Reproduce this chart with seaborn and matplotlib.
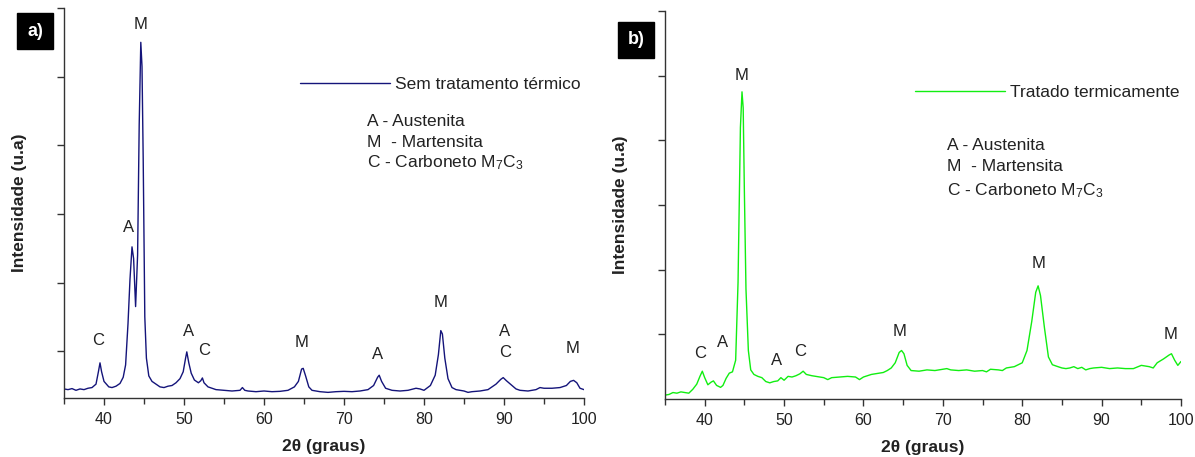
import matplotlib
matplotlib.use('Agg')
import matplotlib.pyplot as plt
import seaborn as sns
import numpy as np

#%% data
theta_a = [35, 35.5, 36, 36.5, 37, 37.5, 38, 38.5, 39, 39.3, 39.5, 39.7, 40, 40.3, 40.6,
           41, 41.5, 42, 42.4, 42.7, 43.0, 43.25, 43.5, 43.7, 43.95, 44.2, 44.4, 44.6,
           44.75, 44.9, 45.1, 45.3, 45.6, 46, 46.5, 47, 47.5, 48, 48.5, 49, 49.5, 49.9,
           50.2, 50.35, 50.6, 50.9, 51.3, 51.8, 52.1, 52.3, 52.5, 53, 53.5, 54, 55, 56,
           57, 57.3, 57.6, 58, 59, 60, 61, 62, 63, 63.8, 64.3, 64.7, 64.9, 65.2, 65.6,
           66, 67, 68, 69, 70, 71, 72, 73, 73.7, 74.2, 74.4, 74.7, 75.2, 76, 77, 78, 79,
           79.5, 80, 80.8, 81.4, 81.8, 82.1, 82.3, 82.6, 83, 83.5, 84, 85, 85.5, 86, 87,
           88, 89, 89.6, 89.9, 90.3, 91, 91.5, 92, 93, 94, 94.5, 95, 96, 97, 97.8, 98.3,
           98.7, 99.1, 99.5, 100]
int_a = [450, 440, 455, 430, 450, 440, 460, 470, 520, 700, 830, 700, 560, 520, 480,
         470, 490, 530, 620, 800, 1400, 2050, 2520, 2350, 1650, 2400, 4300, 5500,
         5150, 3800, 1500, 900, 640, 560, 520, 480, 470, 490, 500, 540, 600, 700,
         900, 990, 830, 680, 580, 540, 570, 610, 540, 480, 460, 440, 430, 420,
         430, 470, 430, 420, 410, 420, 410, 415, 430, 480, 560, 740, 750, 640, 480,
         430, 410, 400, 410, 415, 410, 420, 440, 500, 620, 650, 560, 460, 430, 420, 430, 460,
         450, 430, 500, 650, 950, 1300, 1250, 900, 600, 470, 440, 420, 400, 410, 420,
         440, 520, 590, 615, 570, 500, 450, 430, 420, 440, 470, 460, 460, 470, 500, 560,
         575, 540, 460, 440]

theta_b = [35, 35.5, 36, 36.5, 37, 37.5, 38, 38.5, 39, 39.4, 39.7, 40, 40.4, 40.8, 41.1,
           41.5, 42, 42.3, 42.7, 43.1, 43.5, 43.9, 44.2, 44.5, 44.7, 44.85, 45.0, 45.2,
           45.5, 45.8, 46.2, 46.7, 47.2, 47.7, 48.2, 48.7, 49.2, 49.6, 50, 50.5, 51, 51.5,
           52, 52.4, 52.8, 53.5, 54, 55, 55.5, 56, 57, 58, 59, 59.5, 60, 61, 62, 62.5, 63,
           63.5, 64, 64.5, 64.8, 65.1, 65.5, 66, 67, 68, 69, 70, 70.5, 71, 72, 73, 74, 75,
           75.5, 76, 77, 77.5, 78, 79, 80, 80.6, 81.2, 81.7, 82.0, 82.3, 82.8, 83.3, 83.8,
           84.5, 85, 85.5, 86, 86.5, 87, 87.5, 88, 88.5, 89, 90, 91, 92, 93, 94, 95, 96,
           96.5, 97, 97.8, 98.5, 98.8, 99.2, 99.6, 100]
int_b = [60, 70, 100, 90, 110, 100, 90, 150, 230, 350, 430, 330, 220, 260, 280,
         210, 180, 210, 320, 400, 420, 600, 1800, 4200, 4750, 4500, 3200, 1700,
         750, 450, 380, 350, 330, 270, 250, 270, 280, 330, 290, 350, 340, 360,
         390, 430, 380, 360, 350, 330, 300, 330, 340, 350, 340, 300, 340, 380, 400, 410, 440,
         480, 560, 720, 750, 700, 520, 440, 430, 450, 440, 460, 470, 450, 440, 450, 430, 440,
         420, 460, 450, 440, 480, 500, 560, 750, 1200, 1650, 1750, 1600, 1100, 650, 530,
         500, 480, 470, 480, 500, 470, 490, 450, 470, 480, 490, 470, 480, 470, 470, 520, 500,
         480, 560, 620, 680, 700, 600, 520, 580]

# peak labels (phase, 2theta, height)
labels_a = ['C', 'A', 'M', 'A', 'C', 'M', 'A', 'M', 'A', 'C', 'M']
lab_x_a = [39.3, 43.06, 44.56, 50.56, 52.5, 64.7, 74.2, 82.1, 90.06, 90.1, 98.6]
lab_y_a = [1150, 2796, 5764, 1294, 1010, 1122, 959, 1703, 1294, 988, 1040]

labels_b = ['C', 'A', 'M', 'A', 'C', 'M', 'M', 'M']
lab_x_b = [39.4, 42.3, 44.7, 49.0, 52.0, 64.56, 82.1, 98.65]
lab_y_b = [700, 870, 5010, 595, 730, 1040, 2097, 1000]

phases = ['A - Austenita', 'M  - Martensita', 'C - Carboneto M$_7$C$_3$']

#%%
sns.set_style('ticks')
plt.rcParams['font.family'] = ['Liberation Sans', 'DejaVu Sans']
plt.rcParams['mathtext.fontset'] = 'custom'
plt.rcParams['mathtext.rm'] = 'Liberation Sans'
plt.rcParams['mathtext.it'] = 'Liberation Sans'

fig = plt.figure(figsize=(11.95, 4.57), dpi=100)
ax_a = fig.add_axes([64 / 1195, 1 - 398 / 457, 520 / 1195, 390 / 457])
ax_b = fig.add_axes([665 / 1195, 1 - 399 / 457, 516 / 1195, 388 / 457])

txt = '#222222'
panels = [
    (ax_a, theta_a, int_a, '#14147a', 'Sem tratamento térmico', labels_a, lab_x_a, lab_y_a,
     (318, 6000), (0.454, 0.805), (0.583, [0.708, 0.656, 0.603]), -0.085),
    (ax_b, theta_b, int_b, '#11ee11', 'Tratado termicamente', labels_b, lab_x_b, lab_y_b,
     (0, 6000), (0.4845, 0.791), (0.5465, [0.653, 0.598, 0.537]), -0.086),
]

for ax, x, y, col, name, labs, lx, ly, ylim, leg_pos, ph_pos, ylab_x in panels:
    sns.lineplot(x=x, y=y, ax=ax, color=col, lw=1.0, label=name)
    ax.set_xlim(35, 100)
    ax.set_ylim(*ylim)
    ax.set_xticks(np.arange(40, 101, 10))
    ax.set_xticks(np.arange(35, 101, 5), minor=True)
    ax.set_yticks(np.arange(1000, 6001, 1000))
    ax.set_yticklabels([])
    ax.tick_params(axis='x', which='major', length=5, width=1, color='#333333',
                   labelsize=11.5, labelcolor=txt, pad=5)
    ax.tick_params(axis='x', which='minor', length=4, width=1, color='#333333')
    ax.tick_params(axis='y', length=5, width=1, color='#333333')
    for s in ['top', 'right']:
        ax.spines[s].set_visible(False)
    for s in ['left', 'bottom']:
        ax.spines[s].set_color('#333333')
        ax.spines[s].set_linewidth(1.0)
    ax.set_xlabel('2θ (graus)', fontsize=12.5, fontweight='bold', color=txt, labelpad=9)
    ax.set_ylabel('Intensidade (u.a)', fontsize=12.5, fontweight='bold', color=txt)
    ax.yaxis.set_label_coords(ylab_x, 0.5)
    ax.yaxis.label.set_va('center')

    for t, px, py in zip(labs, lx, ly):
        ax.text(px, py, t, fontsize=12, color=txt, ha='center', va='center')

    ax.legend(loc='center left', bbox_to_anchor=leg_pos, frameon=False, borderpad=0,
              borderaxespad=0, handlelength=5.2, handletextpad=0.25, fontsize=12.5,
              labelcolor=txt)
    for t, py in zip(phases, ph_pos[1]):
        ax.text(ph_pos[0], py, t, transform=ax.transAxes, fontsize=12.5, color=txt,
                ha='left', va='center')

box = dict(boxstyle='square,pad=0.55', fc='black', ec='black')
fig.text(35 / 1195, 1 - 31 / 457, 'a)', color='white', fontsize=13, fontweight='bold',
         ha='center', va='center', bbox=box)
fig.text(636 / 1195, 1 - 40 / 457, 'b)', color='white', fontsize=13, fontweight='bold',
         ha='center', va='center', bbox=box)

fig.savefig('out.png', dpi=100)
